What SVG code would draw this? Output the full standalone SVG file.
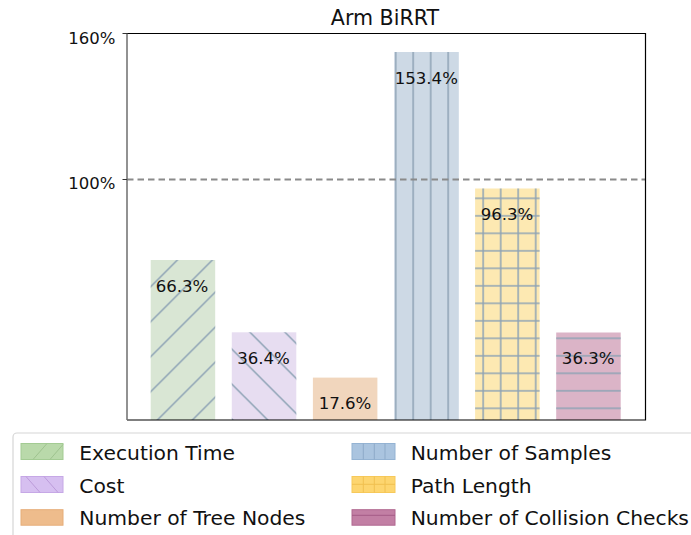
<svg xmlns="http://www.w3.org/2000/svg" width="691" height="535" viewBox="0 0 691 535">
<style>
text{font-family:"DejaVu Sans","Liberation Sans",sans-serif;fill:#111111}
.tick{font-size:16.5px;text-anchor:end}
.lbl{font-size:16.6px;text-anchor:middle}
.leg{font-size:20.3px}
.h{stroke:#8ea3b5;stroke-width:1.5;fill:none}
</style>
<defs>
<pattern id="pSlash" patternUnits="userSpaceOnUse" x="17.4" y="0" width="35" height="35">
<path class="h" d="M0,35L35,0M-2,2L2,-2M33,37L37,33"/>
</pattern>
<pattern id="pBack" patternUnits="userSpaceOnUse" x="0" y="12.3" width="35" height="35">
<path class="h" d="M0,0L35,35M-2,33L2,37M33,-2L37,2"/>
</pattern>
<pattern id="pVert" patternUnits="userSpaceOnUse" x="0" y="0" width="17.5" height="17.5">
<path class="h" d="M10.7,0V17.5"/>
</pattern>
<pattern id="pHor" patternUnits="userSpaceOnUse" x="0" y="0" width="17.5" height="17.5">
<path class="h" d="M0,5.8H17.5"/>
</pattern>
<pattern id="pGrid" patternUnits="userSpaceOnUse" x="0" y="0" width="17.5" height="17.5">
<path class="h" d="M10.7,0V17.5M0,5.8H17.5"/>
</pattern>
</defs>
<rect width="691" height="535" fill="#ffffff"/>
<text x="385" y="25" style="font-size:20.6px;text-anchor:middle">Arm BiRRT</text>
<g id="bar-execution-time">
<rect x="150.7" y="260" width="64.5" height="160" fill="#d9e6d4"/>
<rect x="150.7" y="260" width="64.5" height="160" fill="url(#pSlash)"/>
<text class="lbl" x="182" y="292">66.3%</text>
</g>
<g id="bar-cost">
<rect x="231.8" y="332.3" width="64.5" height="87.7" fill="#e7ddf1"/>
<rect x="231.8" y="332.3" width="64.5" height="87.7" fill="url(#pBack)"/>
<text class="lbl" x="263.5" y="364.3">36.4%</text>
</g>
<g id="bar-tree-nodes">
<rect x="312.9" y="377.6" width="64.5" height="42.4" fill="#f1d6bd"/>
<text class="lbl" x="345" y="408.5">17.6%</text>
</g>
<g id="bar-samples">
<rect x="394.3" y="52" width="64.5" height="368" fill="#cdd9e5"/>
<rect x="394.3" y="52" width="64.5" height="368" fill="url(#pVert)"/>
<text class="lbl" x="426.3" y="83.5">153.4%</text>
</g>
<g id="bar-path-length">
<rect x="475.1" y="188.5" width="64.5" height="231.5" fill="#fde9b2"/>
<rect x="475.1" y="188.5" width="64.5" height="231.5" fill="url(#pGrid)"/>
<text class="lbl" x="507" y="220">96.3%</text>
</g>
<g id="bar-collision-checks">
<rect x="556.2" y="332.5" width="64.5" height="87.5" fill="#dbb4c7"/>
<rect x="556.2" y="332.5" width="64.5" height="87.5" fill="url(#pHor)"/>
<text class="lbl" x="588.2" y="364.3">36.3%</text>
</g>
<g id="connectors">
<line x1="127" y1="179.5" x2="645.5" y2="179.5" stroke="#8a8a8a" stroke-width="1.8" stroke-dasharray="6.5,4"/>
</g>
<g id="axes" fill="none">
<path d="M127,33.5H645.5V420H127" stroke="#000" stroke-width="1.2"/>
<path d="M127,33.5V420" stroke="#6e6e6e" stroke-width="1.5"/>
<path d="M122.5,33.5H127M122.5,179.5H127" stroke="#333" stroke-width="1.2"/>
<text class="tick" x="115.5" y="43.5">160%</text>
<text class="tick" x="115.5" y="188.5">100%</text>
</g>
<g id="legend">
<rect x="13" y="433" width="700" height="130" rx="4" fill="#fff" stroke="#d6d6d6" stroke-width="1.2"/>
<g id="leg-execution-time">
<rect x="21" y="443.5" width="42" height="16" fill="#b9d9aa" stroke="#a3cb93"/>
<path d="M33,459.5L47,443.5M50,459.5L63,444.5" stroke="#9fc38f" stroke-width="1"/>
<text class="leg" x="79.3" y="459.5">Execution Time</text>
</g>
<g id="leg-cost">
<rect x="21" y="476.5" width="42" height="16" fill="#d6bff0" stroke="#c6a8e6"/>
<path d="M26,476.5L40,492.5M44,476.5L58,492.5" stroke="#bc9bda" stroke-width="1"/>
<text class="leg" x="79.3" y="492.5">Cost</text>
</g>
<g id="leg-tree-nodes">
<rect x="21" y="509.7" width="42" height="15.5" fill="#eebc8c" stroke="#e6ad79"/>
<text class="leg" x="79.3" y="525">Number of Tree Nodes</text>
</g>
<g id="leg-samples">
<rect x="352" y="443.5" width="43" height="16" fill="#aac4df" stroke="#94b3d3"/>
<path d="M363.3,443.5V459.5M374.3,443.5V459.5M385,443.5V459.5" stroke="#8eabc9" stroke-width="1"/>
<text class="leg" x="410.7" y="459.5">Number of Samples</text>
</g>
<g id="leg-path-length">
<rect x="352" y="476.5" width="43" height="16" fill="#fdd56f" stroke="#f7c95a"/>
<path d="M363.3,476.5V492.5M374.3,476.5V492.5M385,476.5V492.5M352,484.3H395" stroke="#f0c050" stroke-width="1"/>
<text class="leg" x="410.7" y="492.5">Path Length</text>
</g>
<g id="leg-collision-checks">
<rect x="352" y="509.7" width="43" height="15.5" fill="#c27fa4" stroke="#b06890"/>
<path d="M352,515.3H395" stroke="#a45c86" stroke-width="1"/>
<text class="leg" x="410.7" y="525">Number of Collision Checks</text>
</g>
</g>
</svg>
